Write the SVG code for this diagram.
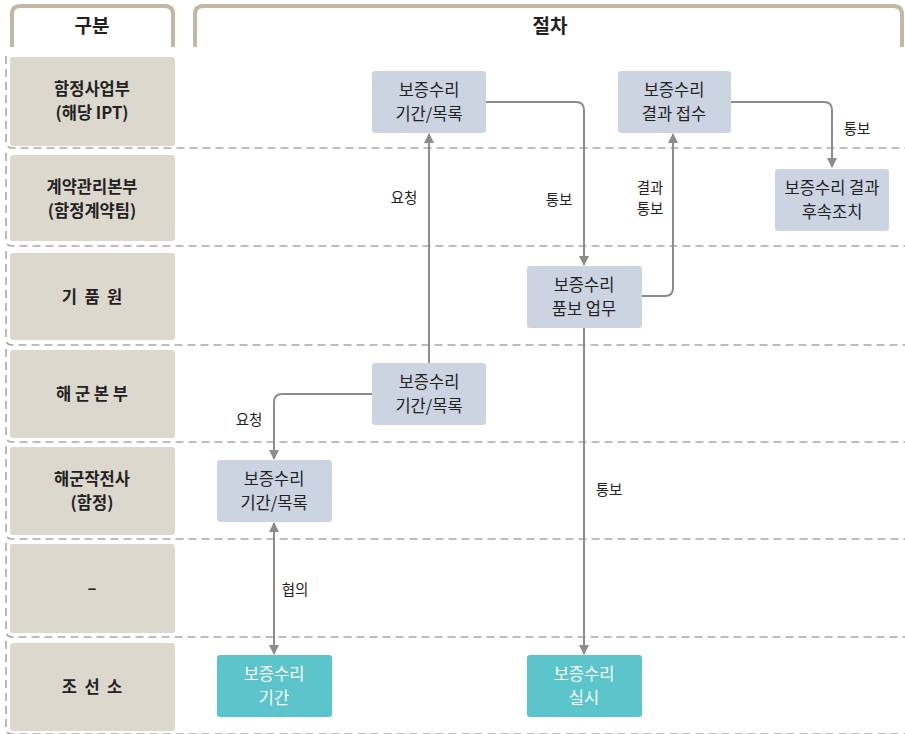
<svg xmlns="http://www.w3.org/2000/svg" width="905" height="734" viewBox="0 0 905 734">
<defs>
<style>
text{font-family:"Noto Sans CJK KR","Noto Sans",sans-serif;fill:#222;text-anchor:middle}
.lane{fill:#ddd8ce}
.lt{font-size:16.5px;font-weight:bold}
.hd{font-size:19px;font-weight:bold}
.tab{fill:#fff;stroke:#c2b8a3;stroke-width:4}
.row{fill:none;stroke:#a8a8a8;stroke-width:1.6;stroke-dasharray:8 5}
.node{fill:#ccd4e2}
.teal{fill:#5cc4cb}
.nt{font-size:16.5px}
.wt{font-size:16.5px;fill:#fff}
.cn{fill:none;stroke:#8c8c8c;stroke-width:2}
.lb{font-size:14.5px}
</style>
<marker id="ah" viewBox="0 0 10 10" refX="9" refY="5" markerWidth="5" markerHeight="5" orient="auto-start-reverse" markerUnits="strokeWidth">
<path d="M0,0 L10,5 L0,10 z" fill="#8c8c8c"/>
</marker>
</defs>
<rect width="905" height="734" fill="#fff"/>
<g id="header">
<path class="tab" d="M12,47 V14 Q12,6 20,6 H165 Q173,6 173,14 V47"/>
<path class="tab" d="M195,47 V14 Q195,6 203,6 H893 Q902,6 902,14 V47"/>
<text class="hd" x="92" y="33">구분</text>
<text class="hd" x="550" y="33">절차</text>
</g>
<g id="rows">
<path class="row" d="M6,56 V142 Q6,148 12,148 H905"/>
<path class="row" d="M6,153 V240 Q6,246 12,246 H905"/>
<path class="row" d="M6,251 V339 Q6,345 12,345 H905"/>
<path class="row" d="M6,349 V436 Q6,442 12,442 H905"/>
<path class="row" d="M6,446 V533 Q6,539 12,539 H905"/>
<path class="row" d="M6,543 V631 Q6,637 12,637 H905"/>
<path class="row" d="M6,641 V728 Q6,734 12,734 H905"/>
</g>
<g id="lane1"><rect class="lane" x="10" y="57" width="165" height="89" rx="3"/><text class="lt" x="92" y="95">함정사업부</text><text class="lt" x="92" y="119">(해당 IPT)</text></g>
<g id="lane2"><rect class="lane" x="10" y="155" width="165" height="86" rx="3"/><text class="lt" x="92" y="193">계약관리본부</text><text class="lt" x="92" y="217">(함정계약팀)</text></g>
<g id="lane3"><rect class="lane" x="10" y="253" width="165" height="87" rx="3"/><text class="lt" x="92" y="303" xml:space="preserve">기  품  원</text></g>
<g id="lane4"><rect class="lane" x="10" y="350" width="165" height="88" rx="3"/><text class="lt" x="92" y="400" xml:space="preserve">해 군 본 부</text></g>
<g id="lane5"><rect class="lane" x="10" y="447" width="165" height="88" rx="3"/><text class="lt" x="92" y="485">해군작전사</text><text class="lt" x="92" y="509">(함정)</text></g>
<g id="lane6"><rect class="lane" x="10" y="544" width="165" height="89" rx="3"/><text class="lt" x="92" y="594">–</text></g>
<g id="lane7"><rect class="lane" x="10" y="643" width="165" height="88" rx="3"/><text class="lt" x="92" y="693" xml:space="preserve">조  선  소</text></g>
<g id="connectors">
<path class="cn" d="M429,363 V134" marker-end="url(#ah)"/>
<path class="cn" d="M372,394 H282 Q274,394 274,402 V459" marker-end="url(#ah)"/>
<path class="cn" d="M274,523 V654" marker-start="url(#ah)" marker-end="url(#ah)"/>
<path class="cn" d="M486,102 H576 Q584,102 584,110 V265" marker-end="url(#ah)"/>
<path class="cn" d="M641,296 H665 Q673,296 673,288 V134" marker-end="url(#ah)"/>
<path class="cn" d="M731,102 H824 Q832,102 832,110 V167" marker-end="url(#ah)"/>
<path class="cn" d="M584,328 V654" marker-end="url(#ah)"/>
<text class="lb" x="404" y="203">요청</text>
<text class="lb" x="249" y="425">요청</text>
<text class="lb" x="295" y="595">협의</text>
<text class="lb" x="559" y="205">통보</text>
<text class="lb" x="650" y="193">결과</text>
<text class="lb" x="650" y="214">통보</text>
<text class="lb" x="857" y="134">통보</text>
<text class="lb" x="609" y="495">통보</text>
</g>
<g id="n1"><rect class="node" x="372" y="71" width="114" height="62" rx="3"/><text class="nt" x="429" y="96">보증수리</text><text class="nt" x="429" y="120">기간/목록</text></g>
<g id="n2"><rect class="node" x="618" y="71" width="113" height="62" rx="3"/><text class="nt" x="674" y="96">보증수리</text><text class="nt" x="674" y="120">결과 접수</text></g>
<g id="n3"><rect class="node" x="775" y="169" width="114" height="62" rx="3"/><text class="nt" x="832" y="194">보증수리 결과</text><text class="nt" x="832" y="218">후속조치</text></g>
<g id="n4"><rect class="node" x="527" y="266" width="115" height="62" rx="3"/><text class="nt" x="584" y="291">보증수리</text><text class="nt" x="584" y="315">품보 업무</text></g>
<g id="n5"><rect class="node" x="372" y="363" width="114" height="62" rx="3"/><text class="nt" x="429" y="388">보증수리</text><text class="nt" x="429" y="412">기간/목록</text></g>
<g id="n6"><rect class="node" x="217" y="460" width="115" height="62" rx="3"/><text class="nt" x="274" y="485">보증수리</text><text class="nt" x="274" y="509">기간/목록</text></g>
<g id="n7"><rect class="teal" x="217" y="655" width="115" height="62" rx="3"/><text class="wt" x="274" y="680">보증수리</text><text class="wt" x="274" y="704">기간</text></g>
<g id="n8"><rect class="teal" x="527" y="655" width="115" height="62" rx="3"/><text class="wt" x="584" y="680">보증수리</text><text class="wt" x="584" y="704">실시</text></g>
</svg>
